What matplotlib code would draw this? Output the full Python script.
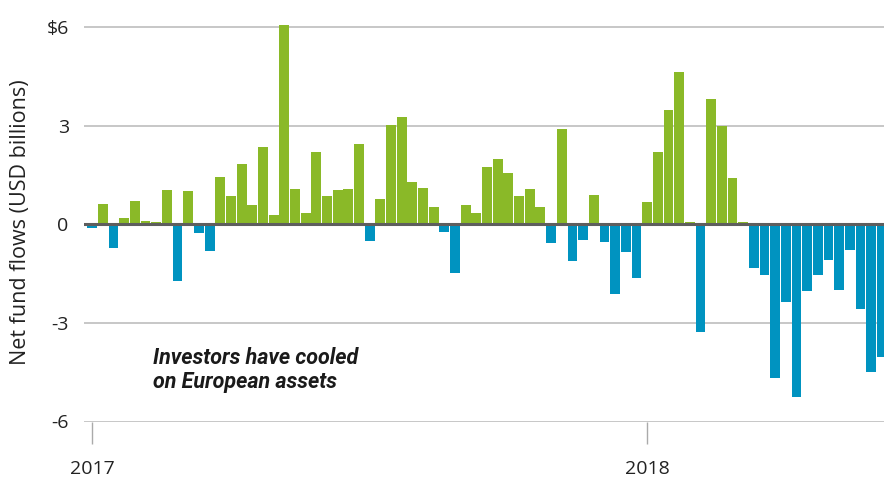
import matplotlib
matplotlib.use("Agg")
import matplotlib.pyplot as plt
import numpy as np

plt.rcParams['font.family'] = ['Open Sans', 'DejaVu Sans']

# Weekly net fund flows (USD billions), starting first week of 2017
flows = [
    -0.13, 0.62, -0.71, 0.19, 0.71, 0.10, 0.07, 1.04, -1.74, 1.01,
    -0.28, -0.80, 1.44, 0.86, 1.83, 0.59, 2.35, 0.28, 6.06, 1.07,
    0.34, 2.20, 0.86, 1.04, 1.07, 2.44, -0.50, 0.77, 3.02, 3.26,
    1.29, 1.10, 0.53, -0.25, -1.47, 0.59, 0.34, 1.74, 1.99, 1.56,
    0.86, 1.07, 0.53, -0.56, 2.90, -1.13, -0.47, 0.89, -0.53, -2.12,
    -0.83, -1.65, 0.68, 2.20, 3.48, 4.63, 0.07, -3.29, 3.81, 2.98,
    1.41, 0.07, -1.32, -1.53, -4.69, -2.38, -5.27, -2.02, -1.53, -1.10,
    -1.99, -0.77, -2.59, -4.48, -4.05,
]
year_labels = ["2017", "2018"]
year_positions = [0, 52]
ytick_values = [6, 3, 0, -3, -6]
ytick_labels = ["$6", "3", "0", "-3", "-6"]

GREEN = "#8ab928"
BLUE = "#0093c0"

fig = plt.figure(figsize=(8.84, 4.79), dpi=100)
ax = fig.add_axes([84 / 884, (479 - 421.5) / 479, 800 / 884, 411 / 479])

x = np.arange(len(flows))
vals = np.array(flows)
colors = [GREEN if v >= 0 else BLUE for v in vals]
ax.bar(x, vals, width=0.92, color=colors, zorder=3, linewidth=0)

ax.set_xlim(-0.77, 74.2)
ax.set_ylim(-6, 6.5)

ax.set_yticks(ytick_values)
ax.set_yticklabels(ytick_labels)
ax.tick_params(axis='y', length=0, pad=11, labelsize=14, labelcolor='#222222')
ax.yaxis.grid(True, color='#bdbdbd', linewidth=1.2, zorder=1)
ax.axhline(0, color='#5e5e5e', linewidth=2.2, zorder=4)

ax.set_xticks(year_positions)
ax.set_xticklabels(year_labels)
ax.tick_params(axis='x', length=16, width=1, color='#aaaaaa', pad=12,
               labelsize=14, labelcolor='#222222')

for s in ax.spines.values():
    s.set_visible(False)

ax.set_ylabel("Net fund flows (USD billions)", fontsize=15.5, color='#222222')
ax.yaxis.set_label_coords(-0.066, 0.485)

ax.text(153 / 884, (479 - 388) / 479, "Investors have cooled\non European assets",
        transform=fig.transFigure, fontsize=15.5, fontweight='bold', style='italic',
        family=['Roboto', 'DejaVu Sans'],
        color='#1a1a1a', va='baseline', ha='left', linespacing=1.12)

fig.savefig("out.png", dpi=100)
